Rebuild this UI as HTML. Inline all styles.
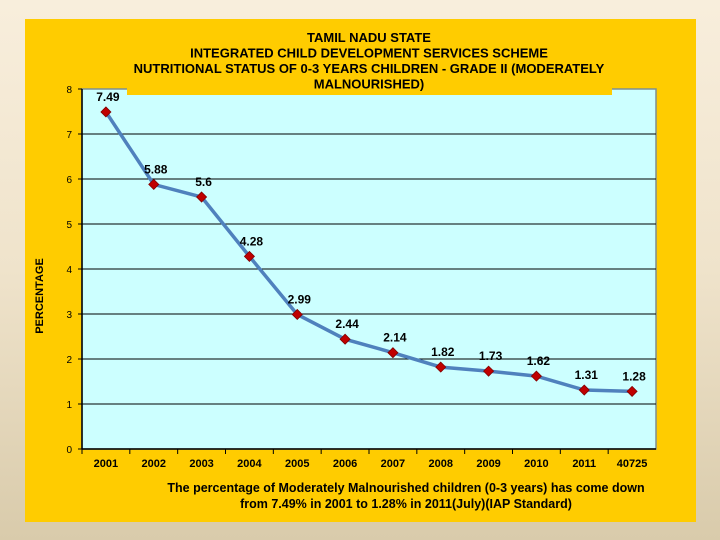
<!DOCTYPE html>
<html><head><meta charset="utf-8"><style>
body{margin:0;width:720px;height:540px;overflow:hidden;background:linear-gradient(180deg,#f8eedc 0%,#efe3cb 50%,#d9cbab 100%);font-family:"Liberation Sans",sans-serif}
</style></head><body>
<svg width="720" height="540" id="chart" style="position:absolute;left:0;top:0">
<rect x="25" y="19" width="671" height="503" fill="#ffcc00"/>
<rect x="82" y="89" width="574" height="360" fill="#ccffff" stroke="#7f8f8f" stroke-width="1.5"/>
<g id="grid"></g>
<g id="axes"></g>
<rect x="127" y="60" width="485" height="35" fill="#ffcc00"/>
<text x="369" y="42" text-anchor="middle" font-size="13" font-weight="bold" fill="#000"><tspan x="369">TAMIL NADU STATE</tspan><tspan x="369" dy="15.5">INTEGRATED CHILD DEVELOPMENT SERVICES SCHEME</tspan><tspan x="369" dy="15.5">NUTRITIONAL STATUS OF 0-3 YEARS CHILDREN  - GRADE II (MODERATELY</tspan><tspan x="369" dy="15.5">MALNOURISHED)</tspan></text>
<text transform="translate(43,296) rotate(-90)" text-anchor="middle" font-size="11" font-weight="bold">PERCENTAGE</text>
<g id="series"></g>
<text x="406" y="492" text-anchor="middle" font-size="12.5" font-weight="bold"><tspan x="406">The percentage of Moderately  Malnourished children (0-3 years) has come down</tspan><tspan x="406" dy="16">from 7.49% in 2001 to 1.28% in 2011(July)(IAP Standard)</tspan></text>
</svg>
<script>
const categories=["2001","2002","2003","2004","2005","2006","2007","2008","2009","2010","2011","40725"];
const values=[7.49,5.88,5.6,4.28,2.99,2.44,2.14,1.82,1.73,1.62,1.31,1.28];
const labels=["7.49","5.88","5.6","4.28","2.99","2.44","2.14","1.82","1.73","1.62","1.31","1.28"];
const yTicks=[0,1,2,3,4,5,6,7,8];
const NS="http://www.w3.org/2000/svg";
const X0=82,W=574,Y0=449,H=360,YMAX=8;
const xs=i=>X0+(i+0.5)*W/categories.length;
const ys=v=>Y0-v/YMAX*H;
function mk(t,a,p){const e=document.createElementNS(NS,t);for(const k in a)e.setAttribute(k,a[k]);p.appendChild(e);return e;}
const grid=document.getElementById('grid'),axes=document.getElementById('axes'),ser=document.getElementById('series');
yTicks.forEach(v=>{
 if(v>0&&v<YMAX){const g=mk('line',{x1:X0,x2:X0+W,y1:ys(v),y2:ys(v),stroke:'#000','stroke-width':1},grid);
 
 }
 const tk=mk('line',{x1:X0-4,x2:X0,y1:ys(v),y2:ys(v),stroke:'#000'},axes);
 
 
 const t=mk('text',{x:X0-10,y:ys(v)+4,'text-anchor':'end','font-size':10},axes);t.textContent=v;
 
 
});
const ya=mk('line',{x1:X0,x2:X0,y1:Y0-H,y2:Y0,stroke:'#000','stroke-width':1.5},axes);


const xa=mk('line',{x1:X0,x2:X0+W,y1:Y0,y2:Y0,stroke:'#000','stroke-width':1.5},axes);


categories.forEach((c,i)=>{
 const bx=X0+i*W/categories.length;
 const tk=mk('line',{x1:bx,x2:bx,y1:Y0,y2:Y0+5,stroke:'#000'},axes);
 
 
 const t=mk('text',{x:xs(i),y:Y0+18,'text-anchor':'middle','font-size':11,'font-weight':'bold'},axes);t.textContent=c;
 
 
});
const line=mk('polyline',{points:values.map((v,i)=>xs(i)+','+ys(v)).join(' '),fill:'none',stroke:'#4f81bd','stroke-width':3.5},ser);


values.forEach((v,i)=>{
 const x=xs(i),y=ys(v);
 const m=mk('polygon',{points:`${x},${y-5} ${x+5},${y} ${x},${y+5} ${x-5},${y}`,fill:'#c00000',stroke:'#800000','stroke-width':0.8},ser);
 
 
 const t=mk('text',{x:x+2,y:y-11,'text-anchor':'middle','font-size':12,'font-weight':'bold'},ser);t.textContent=labels[i];
 
 
});
</script>
</body></html>
